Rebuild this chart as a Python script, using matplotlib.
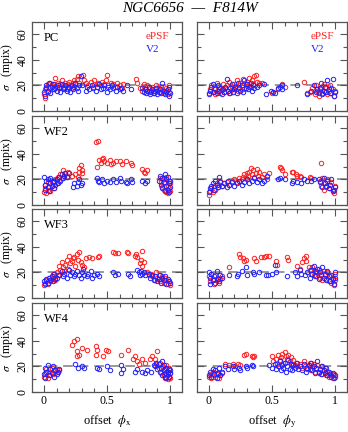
import matplotlib
matplotlib.use("Agg")
import matplotlib.pyplot as plt
from matplotlib.ticker import MultipleLocator, FixedLocator

plt.rcParams['font.family'] = ['Liberation Serif', 'DejaVu Serif']
plt.rcParams['mathtext.fontset'] = 'stix'

chips = ["PC", "WF2", "WF3", "WF4"]
x_labels = [r"offset  $\phi_{\rm x}$", r"offset  $\phi_{\rm y}$"]
y_label = r"$\sigma$   (mpix)"
series_names = ["ePSF", "V2"]

# ---------------- PC ----------------
pc_x_ep_x = [0.00,0.01,0.01,0.02,0.03,0.03,0.04,0.05,0.06,0.07,0.08,0.09,0.10,0.11,0.12,0.13,0.14,0.15,0.16,0.17,0.18,0.19,0.20,0.21,0.22,0.23,0.24,0.25,0.26,0.27,0.28,
             0.31,0.32,0.33,0.35,0.37,0.39,0.40,0.42,0.43,0.45,0.46,0.48,0.49,0.50,0.51,0.53,0.55,0.56,0.58,0.60,0.62,0.63,
             0.73,0.74,0.76,0.78,0.79,0.80,0.81,0.82,0.83,0.84,0.85,0.86,0.87,0.88,0.89,0.90,0.91,0.92,0.93,0.94,0.95,0.96,0.97,0.98,0.99,0.99]
pc_x_ep_y = [13,10,17,19,15,21,18,22,20,17,21,26,19,22,18,21,24,20,19,22,17,21,23,20,18,22,24,21,25,27,22,
             28,24,22,20,23,19,24,21,22,20,23,21,24,28,20,22,21,19,22,20,18,21,
             25,22,18,16,21,19,17,20,15,18,16,19,14,17,20,16,18,15,19,17,14,16,18,13,15,20]
pc_x_v2_x = [0.00,0.01,0.02,0.02,0.03,0.04,0.05,0.06,0.07,0.08,0.09,0.10,0.11,0.12,0.13,0.14,0.15,0.16,0.17,0.18,0.19,0.20,0.21,0.22,0.23,0.24,0.25,0.26,0.27,0.28,0.29,
             0.30,0.33,0.34,0.36,0.38,0.39,0.41,0.42,0.44,0.45,0.47,0.48,0.50,0.51,0.52,0.54,0.55,0.57,0.58,0.60,0.61,0.63,0.66,0.69,
             0.78,0.79,0.80,0.81,0.82,0.83,0.84,0.85,0.86,0.87,0.88,0.89,0.90,0.91,0.92,0.93,0.94,0.95,0.96,0.97,0.98,0.99,0.99,1.00]
pc_x_v2_y = [15,12,18,20,16,22,14,19,21,17,18,16,20,19,15,21,18,17,20,16,19,18,15,20,17,19,22,18,16,20,27,
             20,16,19,17,20,18,16,19,21,17,18,20,15,19,17,20,18,16,19,17,18,16,20,17,
             18,15,17,14,16,19,13,15,17,14,16,18,13,15,17,14,22,16,13,15,17,12,19,14]

pc_y_ep_x = [0.00,0.01,0.02,0.03,0.04,0.05,0.06,0.07,0.08,0.09,0.10,0.11,0.12,0.13,0.14,0.15,0.16,0.17,0.18,0.19,0.20,0.21,0.22,0.23,0.24,0.25,0.26,0.27,0.28,0.29,0.30,0.31,0.32,0.33,0.34,0.35,0.36,0.37,0.38,0.40,0.42,
             0.50,0.55,0.58,0.60,0.75,0.78,
             0.80,0.82,0.84,0.85,0.86,0.87,0.88,0.89,0.90,0.91,0.92,0.93,0.94,0.95,0.96,0.97,0.98,0.99,1.00]
pc_y_ep_y = [14,17,20,15,18,13,22,16,19,14,17,21,15,18,20,16,23,14,19,17,21,18,24,16,20,22,19,25,17,21,23,20,26,19,24,21,27,28,23,22,22,
             14,17,21,19,23,14,
             15,18,13,20,16,12,17,19,14,21,15,18,13,16,20,14,17,12,16]
pc_y_v2_x = [0.00,0.01,0.02,0.03,0.04,0.05,0.06,0.07,0.08,0.09,0.10,0.11,0.12,0.13,0.14,0.15,0.16,0.17,0.18,0.19,0.20,0.21,0.22,0.23,0.24,0.25,0.26,0.27,0.28,0.29,0.30,0.31,0.32,0.33,0.34,0.35,0.36,0.38,0.40,0.44,
             0.45,0.49,0.51,0.52,0.55,0.56,0.58,0.58,0.70,
             0.78,0.81,0.83,0.85,0.86,0.87,0.88,0.89,0.90,0.91,0.92,0.93,0.94,0.95,0.96,0.97,0.98,0.99,1.00]
pc_y_v2_y = [13,16,19,21,15,17,14,20,16,18,13,17,15,19,25,16,14,18,21,15,17,19,14,22,18,16,20,15,24,18,21,17,19,22,16,20,18,19,20,21,
             13,16,15,14,18,19,20,17,20,
             13,16,20,15,17,14,18,22,13,16,19,15,24,17,14,18,25,12,15]

# ---------------- WF2 ----------------
wf2_x_ep_x = [0.00,0.01,0.01,0.02,0.03,0.03,0.04,0.05,0.05,0.06,0.07,0.08,0.09,0.10,0.11,0.12,0.13,0.14,0.15,0.16,0.17,0.18,0.19,
              0.22,0.25,0.27,0.28,0.28,0.29,0.30,0.30,0.41,0.42,0.43,0.44,0.45,0.46,0.47,0.48,0.50,0.52,0.53,0.55,0.57,0.60,0.62,0.65,0.69,0.70,0.78,0.79,0.80,0.82,
              0.92,0.93,0.94,0.95,0.95,0.96,0.97,0.97,0.98,0.98,0.99,0.99,1.00,1.00]
wf2_x_ep_y = [10,13,16,9,12,18,14,11,17,15,19,13,20,17,22,19,24,21,27,23,25,22,26,
              23,24,22,26,29,31,27,25,49,30,50,35,33,36,37,34,33,35,32,33,34,34,32,34,33,31,28,26,25,27,
              21,18,14,20,12,17,10,22,15,9,19,13,11,17]
wf2_x_v2_x = [0.00,0.01,0.01,0.02,0.03,0.03,0.04,0.05,0.05,0.06,0.07,0.08,0.08,0.09,0.10,0.11,0.12,0.13,0.14,0.15,0.16,0.17,0.18,0.20,
              0.23,0.24,0.26,0.27,0.28,0.29,0.30,0.42,0.43,0.44,0.46,0.48,0.50,0.52,0.55,0.57,0.60,0.61,0.65,0.66,0.69,0.70,0.78,0.80,0.82,
              0.91,0.92,0.93,0.94,0.94,0.95,0.96,0.96,0.97,0.97,0.98,0.98,0.99,0.99,1.00,1.00]
wf2_x_v2_y = [22,12,16,19,14,20,11,17,21,15,18,13,19,16,20,17,22,19,24,21,23,25,22,25,
              14,17,15,18,20,16,17,21,19,18,20,17,19,18,20,18,21,19,18,17,20,18,19,17,19,
              19,23,16,21,13,18,24,11,20,15,22,12,17,10,14,19]

wf2_y_ep_x = [0.00,0.01,0.02,0.03,0.04,0.05,0.06,0.07,0.08,0.09,0.10,0.12,0.14,0.16,0.18,0.20,0.22,0.24,0.26,0.27,0.28,0.29,0.30,0.31,0.32,0.33,0.34,0.35,0.36,0.37,0.38,0.39,0.40,0.42,0.44,0.46,0.48,
              0.56,0.57,0.58,0.60,0.66,0.67,0.69,0.70,0.72,0.73,0.80,0.81,0.89,
              0.88,0.89,0.90,0.91,0.92,0.93,0.94,0.95,0.96,0.97,0.98,0.99,1.00]
wf2_y_ep_y = [8,11,13,10,15,12,17,14,16,19,15,17,18,16,19,20,18,21,20,22,24,21,25,23,26,29,24,27,22,25,28,23,26,22,24,20,25,
              30,29,27,24,26,26,24,23,23,22,22,21,33,
              19,15,21,12,17,14,20,13,16,18,11,9,15]
wf2_y_v2_x = [0.00,0.01,0.02,0.03,0.04,0.05,0.06,0.07,0.08,0.09,0.10,0.12,0.14,0.15,0.16,0.18,0.20,0.22,0.24,0.26,0.28,0.30,0.32,0.34,0.36,0.38,0.40,0.42,0.44,0.46,
              0.55,0.56,0.60,0.66,0.67,0.70,0.73,0.75,0.78,0.81,0.83,
              0.87,0.88,0.90,0.91,0.92,0.93,0.94,0.95,0.96,0.97,0.98,0.99,1.00]
wf2_y_v2_y = [10,13,15,17,12,19,16,14,22,18,15,17,14,19,16,18,15,17,19,16,18,20,17,19,21,18,20,17,19,23,
              20,21,20,17,19,18,17,20,19,19,20,
              20,18,14,21,17,15,19,13,16,20,11,12,14]

# ---------------- WF3 ----------------
wf3_x_ep_x = [0.00,0.01,0.02,0.03,0.04,0.05,0.06,0.07,0.08,0.09,0.10,0.11,0.12,0.13,0.14,0.15,0.16,0.17,0.18,0.19,0.20,0.21,0.22,0.23,0.24,0.25,0.26,0.27,0.28,0.29,0.30,0.32,0.33,0.36,0.38,0.43,0.44,0.55,0.56,0.59,0.66,0.67,0.72,0.73,0.74,0.76,0.77,0.78,0.78,0.79,
              0.82,0.83,0.85,0.86,0.88,0.89,0.90,0.91,0.92,0.93,0.94,0.95,0.96,0.97,0.98,0.99,1.00]
wf3_x_ep_y = [10,12,14,11,16,13,15,19,17,14,20,18,25,22,28,24,21,26,30,23,33,27,29,31,32,25,34,30,36,28,26,24,31,32,31,32,33,36,35,35,36,35,33,34,32,27,30,25,37,28,
              20,18,19,17,14,20,16,18,13,15,17,12,16,14,11,13,10]
wf3_x_v2_x = [0.00,0.01,0.02,0.03,0.04,0.05,0.06,0.07,0.08,0.09,0.10,0.12,0.14,0.15,0.16,0.18,0.20,0.21,0.22,0.24,0.25,0.26,0.28,0.29,0.30,0.31,0.32,0.34,0.35,0.37,0.38,0.40,0.42,0.44,0.55,0.56,0.59,0.67,0.68,0.74,0.75,0.76,0.77,0.78,0.79,0.80,
              0.83,0.84,0.86,0.87,0.88,0.90,0.91,0.92,0.93,0.94,0.95,0.96,0.97,0.98,0.99,1.00]
wf3_x_v2_y = [13,11,15,12,16,14,17,13,19,15,16,18,21,17,19,16,22,18,20,17,19,21,18,16,20,23,18,17,19,21,16,18,19,17,20,18,19,19,17,22,20,18,21,19,20,18,
              19,16,18,14,17,13,15,18,12,16,14,17,11,15,13,12]

wf3_y_ep_x = [0.00,0.01,0.02,0.03,0.04,0.05,0.06,0.07,0.08,0.09,0.10,0.16,0.24,0.25,0.27,0.28,0.29,0.36,0.37,0.41,0.44,0.45,0.48,0.53,0.54,0.62,0.63,0.70,0.72,0.74,0.75,0.77,0.77,0.79,
              0.80,0.81,0.82,0.83,0.84,0.85,0.86,0.87,0.88,0.89,0.90,0.91,0.92,0.93,0.94,0.95,0.96,0.97,0.98,0.99,1.00,1.00]
wf3_y_ep_y = [17,13,19,15,11,18,14,16,12,15,17,24,34,32,31,29,30,31,29,32,32,33,33,29,26,32,30,25,23,28,31,33,29,24,
              22,19,24,18,21,17,20,23,16,19,14,21,18,15,20,13,17,12,16,10,14,19]
wf3_y_v2_x = [0.00,0.01,0.01,0.02,0.03,0.04,0.05,0.06,0.07,0.08,0.09,0.10,0.16,0.22,0.23,0.26,0.29,0.30,0.35,0.36,0.40,0.45,0.47,0.50,0.52,0.53,0.62,0.68,0.70,0.72,0.73,
              0.76,0.78,0.80,0.81,0.82,0.83,0.84,0.85,0.86,0.87,0.88,0.89,0.90,0.91,0.92,0.93,0.94,0.95,0.96,0.97,0.98,0.99,1.00,1.00]
wf3_y_v2_y = [20,11,16,19,14,17,12,21,15,13,18,16,18,17,19,21,24,18,20,19,20,18,18,19,26,20,17,20,17,22,19,
              18,20,16,22,19,25,17,21,23,15,20,18,24,16,19,14,21,17,13,18,15,11,16,20]

# ---------------- WF4 ----------------
wf4_x_ep_x = [0.00,0.01,0.02,0.03,0.04,0.05,0.06,0.07,0.08,0.09,0.10,0.11,0.12,0.22,0.24,0.26,0.26,0.26,0.28,0.30,0.34,0.41,0.42,0.41,0.47,0.49,0.51,0.61,0.67,0.71,0.72,0.74,0.75,0.78,0.80,0.84,0.86,0.88,0.89,0.90,
              0.91,0.92,0.93,0.94,0.95,0.96,0.96,0.97,0.97,0.98,0.98,0.99,0.99,1.00,1.00]
wf4_x_ep_y = [12,15,18,11,16,13,19,14,17,15,18,16,17,37,40,41,32,28,29,34,33,36,33,29,28,33,32,29,33,26,28,24,22,26,23,26,28,26,22,32,
              19,23,15,20,13,18,11,21,14,16,10,19,12,15,11]
wf4_x_v2_x = [0.00,0.01,0.01,0.02,0.03,0.04,0.05,0.06,0.07,0.08,0.09,0.10,0.11,0.12,0.25,0.27,0.30,0.32,0.42,0.44,0.50,0.52,0.61,0.61,0.63,0.72,0.74,0.78,0.80,0.82,0.85,0.87,
              0.88,0.89,0.90,0.91,0.92,0.93,0.94,0.94,0.95,0.95,0.96,0.96,0.97,0.97,0.98,0.98,0.99,0.99,1.00,1.00]
wf4_x_v2_y = [14,19,11,16,21,13,18,15,20,12,17,14,16,18,22,19,20,19,19,18,20,17,21,15,18,16,18,16,15,17,16,21,
              20,23,18,22,16,19,24,13,17,21,12,15,19,11,16,14,18,12,15,17]

wf4_y_ep_x = [0.00,0.01,0.02,0.03,0.04,0.05,0.06,0.07,0.08,0.09,0.10,0.13,0.16,0.19,0.21,0.23,0.25,0.28,0.29,0.34,0.35,0.36,
              0.50,0.51,0.53,0.54,0.55,0.56,0.57,0.58,0.59,0.60,0.61,0.62,0.63,0.64,0.65,0.66,0.67,0.68,0.69,0.70,0.72,0.74,0.75,0.76,0.78,0.79,0.80,0.81,0.82,0.83,0.84,0.85,0.86,0.87,0.88,0.89,0.90,0.91,0.92,0.93,0.94,0.95,0.96,0.97,0.98,0.99,1.00]
wf4_y_ep_y = [12,14,11,16,13,12,15,14,11,13,15,22,21,22,20,22,21,29,30,28,27,28,
              28,24,26,22,29,25,27,30,23,31,28,26,29,24,27,22,25,21,23,20,22,19,24,20,18,21,23,17,20,22,16,19,21,15,18,20,14,17,19,13,16,12,15,13,11,14,12]
wf4_y_v2_x = [0.00,0.01,0.02,0.03,0.04,0.05,0.06,0.07,0.08,0.09,0.10,0.13,0.15,0.19,0.20,0.24,0.25,0.29,0.30,0.34,0.35,
              0.48,0.50,0.52,0.53,0.55,0.56,0.57,0.58,0.59,0.60,0.61,0.62,0.63,0.64,0.65,0.66,0.67,0.68,0.70,0.71,0.72,0.74,0.75,0.77,0.78,0.79,0.80,0.81,0.82,0.83,0.84,0.85,0.86,0.87,0.88,0.89,0.90,0.91,0.92,0.93,0.94,0.95,0.96,0.97,0.98,0.99,1.00]
wf4_y_v2_y = [13,16,12,18,14,17,11,15,19,13,16,20,18,20,18,19,17,20,19,21,20,
              21,19,22,18,20,24,17,21,19,23,16,20,25,18,22,17,21,19,23,18,20,17,22,16,19,21,18,23,17,20,15,19,24,16,18,14,20,17,15,19,13,16,14,12,15,11,13]

panels = [
    [(pc_x_ep_x, pc_x_ep_y, pc_x_v2_x, pc_x_v2_y), (pc_y_ep_x, pc_y_ep_y, pc_y_v2_x, pc_y_v2_y)],
    [(wf2_x_ep_x, wf2_x_ep_y, wf2_x_v2_x, wf2_x_v2_y), (wf2_y_ep_x, wf2_y_ep_y, wf2_y_v2_x, wf2_y_v2_y)],
    [(wf3_x_ep_x, wf3_x_ep_y, wf3_x_v2_x, wf3_x_v2_y), (wf3_y_ep_x, wf3_y_ep_y, wf3_y_v2_x, wf3_y_v2_y)],
    [(wf4_x_ep_x, wf4_x_ep_y, wf4_x_v2_x, wf4_x_v2_y), (wf4_y_ep_x, wf4_y_ep_y, wf4_y_v2_x, wf4_y_v2_y)],
]

W, H = 348, 432
fig = plt.figure(figsize=(W / 100, H / 100), dpi=100)
fig.patch.set_facecolor("white")

col_left = [32, 197]
col_w = 150
row_top = [22, 116, 209, 303]
row_h = 89
frame_col = "#555555"

for r in range(4):
    for c in range(2):
        x0 = col_left[c] / W
        y0 = 1 - (row_top[r] + row_h) / H
        ax = fig.add_axes([x0, y0, col_w / W, row_h / H])
        epx, epy, v2x, v2y = panels[r][c]
        ax.axhline(20, color="#999999", lw=1.4, ls=(0, (5, 3)), zorder=1)
        ax.plot(epx, epy, ls="none", marker="o", ms=3.2, mfc="none", mec="#ff2020", mew=0.7, zorder=2)
        ax.plot(v2x, v2y, ls="none", marker="o", ms=3.2, mfc="none", mec="#2020ff", mew=0.7, zorder=3)
        ax.set_xlim(-0.095, 1.095)
        ax.set_ylim(0, 69.5)
        ax.xaxis.set_major_locator(FixedLocator([0, 0.5, 1]))
        ax.xaxis.set_minor_locator(MultipleLocator(0.1))
        ax.yaxis.set_major_locator(MultipleLocator(20))
        ax.yaxis.set_minor_locator(MultipleLocator(10))
        ax.tick_params(which="both", direction="in", top=True, right=True, colors=frame_col,
                       labelcolor="black", width=0.8)
        ax.tick_params(which="major", length=5, labelsize=8.5, pad=2.5)
        ax.tick_params(which="minor", length=3)
        for sp in ax.spines.values():
            sp.set_color(frame_col)
            sp.set_linewidth(0.9)
        if c == 0:
            ax.set_yticks([0, 20, 40, 60])
            ax.set_yticklabels(["0", "20", "40", "60"], rotation=90, va="center")
            ax.set_ylabel(y_label, fontsize=8.5, labelpad=1)
            ax.text(0.0, 57, chips[r], fontsize=9, ha="left", va="center")
        else:
            ax.set_yticklabels([])
        if r == 3:
            ax.set_xticklabels(["0", "0.5", "1"])
            ax.set_xlabel(x_labels[c], fontsize=9, labelpad=4)
        else:
            ax.set_xticklabels([])
        if r == 0:
            ax.text(0.81, 58, series_names[0], color="#ff2020", fontsize=8, ha="left", va="center")
            ax.text(0.81, 48, series_names[1], color="#2020ff", fontsize=8, ha="left", va="center")

fig.text(190 / W, 1 - 8 / H, "NGC6656  —  F814W", fontsize=11, style="italic",
         ha="center", va="center")

fig.savefig("out.png", dpi=100)
